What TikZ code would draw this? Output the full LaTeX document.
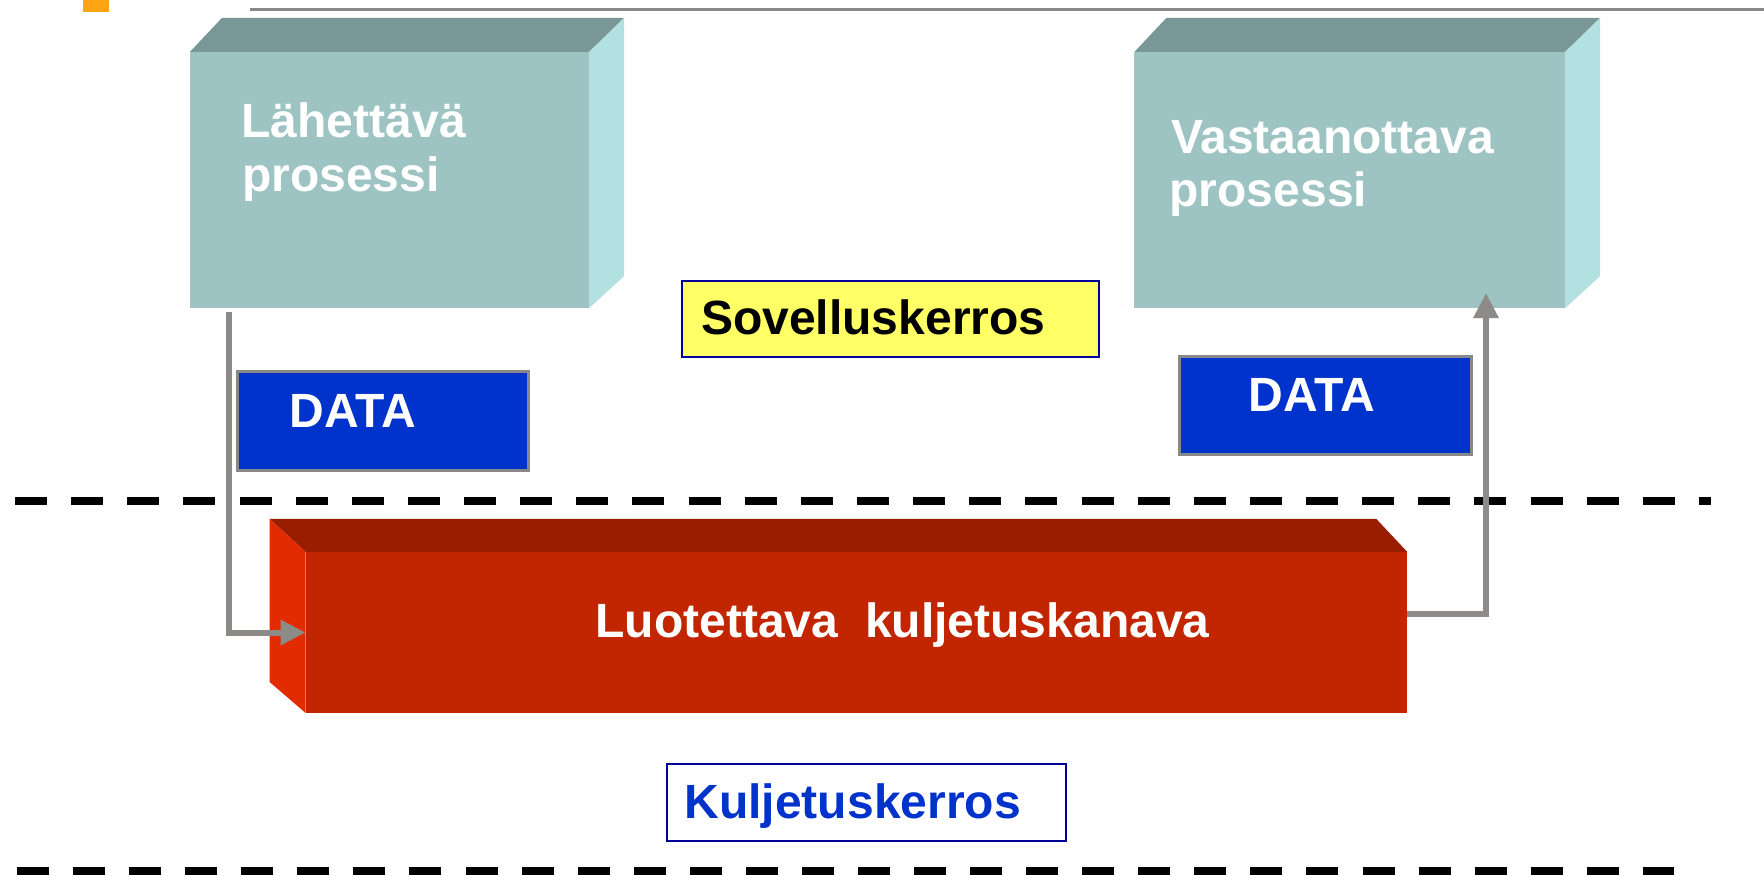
\documentclass[tikz,border=0pt]{standalone}
\usepackage{fontspec}
\setmainfont{Liberation Sans}
\usetikzlibrary{arrows.meta,calc}

\definecolor{tealfront}{HTML}{9DC3C3}
\definecolor{tealtop}{HTML}{799796}
\definecolor{tealside}{HTML}{B3E1E1}
\definecolor{redfront}{HTML}{C22600}
\definecolor{redtop}{HTML}{991E00}
\definecolor{redside}{HTML}{E22B00}
\definecolor{datablue}{HTML}{0033CC}
\definecolor{noteyellow}{HTML}{FFFF66}
\definecolor{navy}{HTML}{000099}
\definecolor{flowgray}{HTML}{8C8B87}
\definecolor{rulegray}{HTML}{888888}
\definecolor{markorange}{HTML}{FFA514}

\begin{document}
\begin{tikzpicture}[x=0.01cm,y=-0.01cm,
  face/.style={rectangle,inner sep=0pt,outer sep=0pt},
  lbl/.style={inner sep=0pt,outer sep=0pt,anchor=base west,
    font=\bfseries\fontsize{13.66pt}{16pt}\selectfont},
  databox/.style={face,fill=datablue,draw=rulegray,line width=0.3mm,
    minimum width=29mm,minimum height=9.8mm},
  tagbox/.style={face,draw=navy,line width=0.25mm,
    minimum width=41.7mm,minimum height=7.6mm},
  layerline/.style={line width=0.8mm,dash pattern=on 3.2mm off 2.41mm},
  flow/.style={draw=flowgray,line width=0.6mm,
    -{Triangle[length=2.5mm,width=2.4mm]}}]
\useasboundingbox (0,0) rectangle (1764,875);

% header mark and rule
\fill[markorange] (83,0) rectangle (109,12);
\draw[rulegray,line width=0.3mm] (250,9.3) -- (1764,9.3);

% layer boundaries
\draw[layerline] (15,501) -- (1711,501);
\draw[layerline,dash pattern=on 3.2mm off 2.403mm] (17,871) -- (1674,871);

% sending process (3D block)
\node[face,fill=tealfront,minimum width=39.9mm,minimum height=25.6mm] (send) at (389.5,180) {};
\fill[tealtop] (send.north west) -- ++(32,-34) -- ($(send.north east)+(35,-34)$) -- (send.north east) -- cycle;
\fill[tealside] (send.north east) -- ++(35,-34) -- ($(send.south east)+(35,-32)$) -- (send.south east) -- cycle;
\node[lbl,white] (sendt1) at (241.5,137) {Lähettävä};
\node[lbl,white] (sendt2) at (242,191) {prosessi};

% receiving process (3D block)
\node[face,fill=tealfront,minimum width=43.05mm,minimum height=25.6mm] (recv) at (1349.75,180) {};
\fill[tealtop] (recv.north west) -- ++(32,-34) -- ($(recv.north east)+(35,-34)$) -- (recv.north east) -- cycle;
\fill[tealside] (recv.north east) -- ++(35,-34) -- ($(recv.south east)+(35,-32)$) -- (recv.south east) -- cycle;
\node[lbl,white] (recvt1) at (1171,153) {Vastaanottava};
\node[lbl,white] (recvt2) at (1169.5,206) {prosessi};

% reliable transport channel (3D bar)
\node[face,fill=redfront,minimum width=110.1mm,minimum height=16.1mm] (chan) at (856.5,632.5) {};
\fill[redtop] (chan.north west) -- ++(-36,-33) -- ($(chan.north east)+(-31,-33)$) -- (chan.north east) -- cycle;
\fill[redside] (chan.north west) -- ++(-36,-33) -- ($(chan.south west)+(-36,-31)$) -- (chan.south west) -- cycle;
\node[lbl,white] (chant) at (595.5,637) {Luotettava\ \ kuljetuskanava};

% application layer tag
\node[tagbox,fill=noteyellow] (app) at (890.5,319) {};
\node[lbl,black] (appt) at (701,334) {Sovelluskerros};

% data units
\node[databox] (dataL) at (383,421) {};
\node[lbl,white] (dataLt) at (289.5,427) {DATA};
\node[databox,minimum width=29.1mm,minimum height=9.7mm] (dataR) at (1325.5,405.5) {};
\node[lbl,white] (dataRt) at (1248.5,411) {DATA};

% transport layer tag
\node[tagbox,fill=white,minimum width=39.9mm,minimum height=7.7mm] (trans) at (866.5,802.5) {};
\node[lbl,datablue] (transt) at (684.5,818) {Kuljetuskerros};

% data flow
\coordinate (sendout) at (229,312);
\draw[flow] (sendout) |- (chan.west);
\coordinate (chanout) at (1407,614);
\coordinate (recvin) at (1486,293);
\draw[flow] (chanout) -| (recvin);
\end{tikzpicture}
\end{document}
